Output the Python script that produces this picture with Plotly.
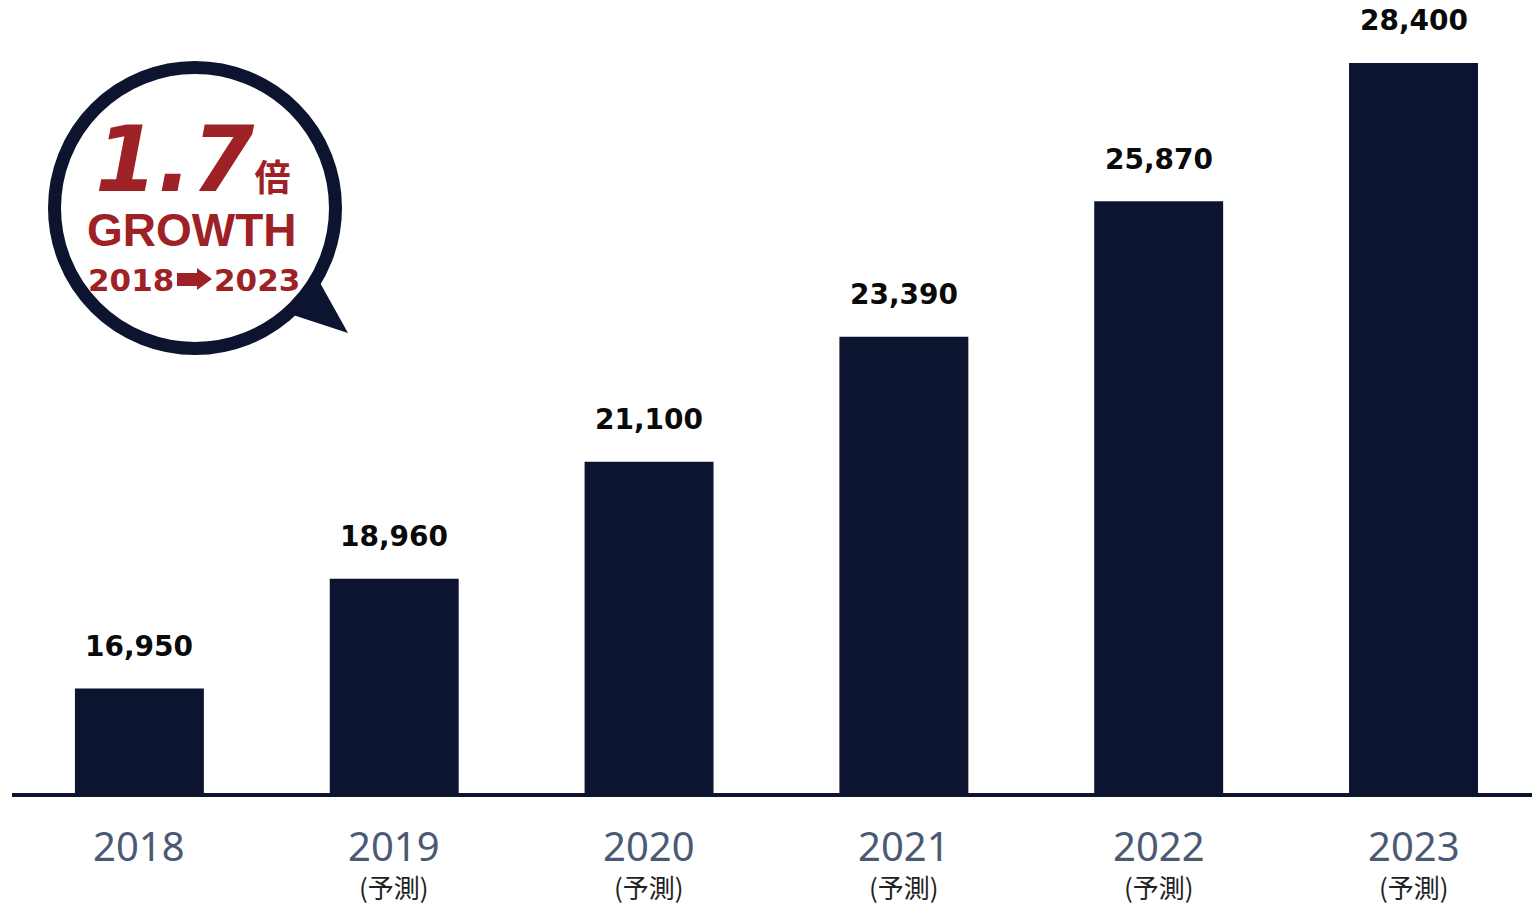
import plotly.graph_objects as go

# Market size by year (2019 onward are forecasts)
years = ["2018", "2019", "2020", "2021", "2022", "2023"]
values = [16950, 18960, 21100, 23390, 25870, 28400]
forecast = [False, True, True, True, True, True]

NAVY = "#0c1430"
RED = "#9e2126"
YEAR_GREY = "#4b5a74"

W, H = 1532, 905
L, R, T, B = 12, 0, 0, 110
PW, PH = W - L - R, H - T - B


def px(x):
    return (x - L) / PW


def py(y):
    return (H - B - y) / PH


xs = list(range(len(years)))

fig = go.Figure()
fig.add_trace(go.Bar(
    x=xs, y=[v - 15000 for v in values], base=15000,
    width=0.506, marker=dict(color=NAVY, line=dict(width=0)),
    hoverinfo="skip",
))

annotations = []
for i, (yr, v, fc) in enumerate(zip(years, values, forecast)):
    annotations.append(dict(
        x=i, y=v, xref="x", yref="y", text=f"<b>{v:,}</b>", showarrow=False,
        yanchor="middle", yshift=42,
        font=dict(family="DejaVu Sans", size=28, color="#0a0a0a"),
    ))
    annotations.append(dict(
        x=i, y=0, xref="x", yref="paper", text=yr, showarrow=False,
        yanchor="middle", yshift=-50, borderpad=0,
        font=dict(family="Noto Sans", size=40, color=YEAR_GREY),
    ))
    if fc:
        annotations.append(dict(
            x=i, y=0, xref="x", yref="paper", text="(予測)", showarrow=False,
            yanchor="middle", yshift=-91, borderpad=0,
            font=dict(family="Noto Sans CJK JP", size=26, color="#222222"),
        ))

# Speech bubble text
annotations += [
    dict(x=px(93), y=py(160), xref="paper", yref="paper", xanchor="left", yanchor="middle",
         showarrow=False,
         text="<b><i>1.7</i></b><b><span style='font-size:36px;font-family:\"Noto Sans CJK JP\"'>倍</span></b>",
         font=dict(family="DejaVu Sans", size=90, color=RED)),
    dict(x=px(192), y=py(230), xref="paper", yref="paper", xanchor="center", yanchor="middle",
         showarrow=False, text="<b>GROWTH</b>",
         font=dict(family="Liberation Sans", size=46, color=RED)),
    dict(x=px(175), y=py(280), xref="paper", yref="paper", xanchor="right", yanchor="middle",
         showarrow=False, text="<b>2018</b>", borderpad=0,
         font=dict(family="DejaVu Sans", size=31, color=RED)),
    dict(x=px(213), y=py(280), xref="paper", yref="paper", xanchor="left", yanchor="middle",
         showarrow=False, text="<b>2023</b>", borderpad=0,
         font=dict(family="DejaVu Sans", size=31, color=RED)),
]

cx, cy, rr = 195, 208, 140.5
arrow = [(177, 273), (197, 273), (197, 268), (212, 279), (197, 290), (197, 286), (177, 286)]
arrow_path = "M " + " L ".join(f"{px(a)},{py(b)}" for a, b in arrow) + " Z"

shapes = [
    # baseline
    dict(type="line", xref="paper", yref="paper", x0=0, x1=1, y0=0, y1=0,
         line=dict(color=NAVY, width=4), layer="above"),
    # bubble tail
    dict(type="path", xref="paper", yref="paper",
         path=f"M {px(287)},{py(313)} L {px(348)},{py(333)} L {px(314)},{py(272)} Z",
         fillcolor=NAVY, line=dict(width=0), layer="above"),
    # bubble body
    dict(type="circle", xref="paper", yref="paper",
         x0=px(cx - rr), x1=px(cx + rr), y0=py(cy + rr), y1=py(cy - rr),
         fillcolor="white", line=dict(color=NAVY, width=13), layer="above"),
    # arrow between the years
    dict(type="path", xref="paper", yref="paper", path=arrow_path,
         fillcolor=RED, line=dict(width=0), layer="above"),
]

fig.update_layout(
    width=W, height=H,
    margin=dict(l=L, r=R, t=T, b=B),
    paper_bgcolor="white", plot_bgcolor="white",
    showlegend=False,
    xaxis=dict(range=[-0.5, 5.465], visible=False, fixedrange=True),
    yaxis=dict(range=[15000, 29553], visible=False, fixedrange=True),
    annotations=annotations,
    shapes=shapes,
)

fig.write_html("out.html", config={"displayModeBar": False})
